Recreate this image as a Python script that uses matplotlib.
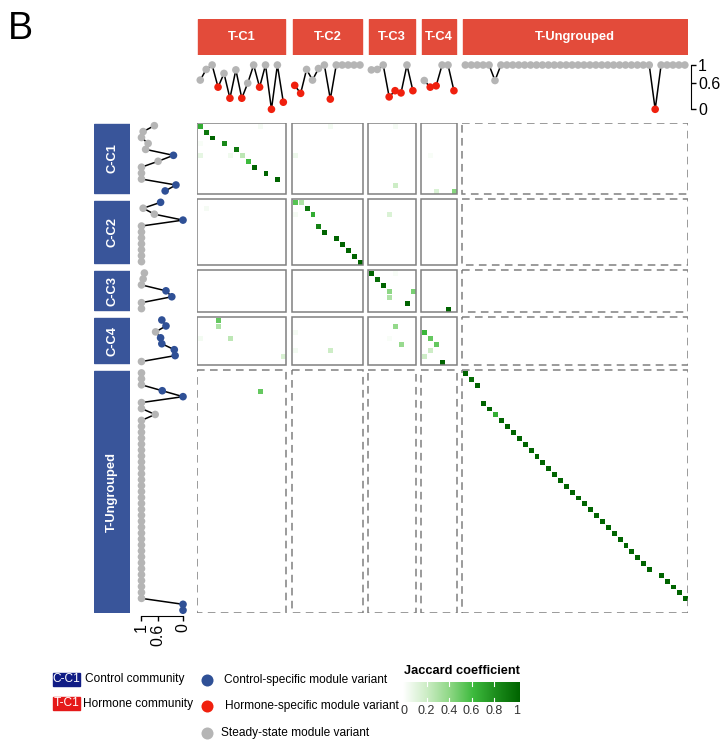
import numpy as np
import matplotlib.pyplot as plt
from matplotlib import font_manager
from matplotlib.colors import LinearSegmentedColormap
from matplotlib.patches import Rectangle

# communities: hormone (columns) and control (rows)
col_groups = ['T-C1', 'T-C2', 'T-C3', 'T-C4', 'T-Ungrouped']
col_sizes = [15, 12, 8, 6, 38]
row_groups = ['C-C1', 'C-C2', 'C-C3', 'C-C4', 'T-Ungrouped']
row_sizes = [12, 11, 7, 8, 41]

# top strip: best match per hormone module (g = steady, r = hormone-specific)
top_t1 = [0.66, 0.90, 1.0, 0.50, 0.81, 0.25, 0.89, 0.25, 0.59, 1.0, 0.50, 1.0, 0.0, 1.0, 0.16]
cat_t1 = 'gggrgrgrggrgrgr'
top_t2 = [0.54, 0.36, 0.90, 0.66, 0.92, 1.0, 0.23, 1.0, 1.0, 1.0, 1.0, 1.0]
cat_t2 = 'rrggggrggggg'
top_t3 = [0.89, 0.90, 1.0, 0.28, 0.42, 0.37, 1.0, 0.42]
cat_t3 = 'gggrrrgr'
top_t4 = [0.65, 0.50, 0.53, 1.0, 1.0, 0.42]
cat_t4 = 'grrggr'
top_tu = [1.0, 1.0, 1.0, 1.0, 1.0, 0.65, 1.0, 1.0, 1.0, 1.0,
          1.0, 1.0, 1.0, 1.0, 1.0, 1.0, 1.0, 1.0, 1.0, 1.0,
          1.0, 1.0, 1.0, 1.0, 1.0, 1.0, 1.0, 1.0, 1.0, 1.0,
          1.0, 1.0, 0.0, 1.0, 1.0, 1.0, 1.0, 1.0]
cat_tu = 'ggggggggggggggggggggggggggggggggrggggg'

# left strip: best match per control module (g = steady, b = control-specific)
left_c1 = [0.69, 0.96, 1.0, 0.84, 0.90, 0.23, 0.60, 1.0, 1.0, 1.0, 0.17, 0.43]
lcat_c1 = 'gggggbggggbb'
left_c2 = [0.54, 0.96, 0.69, 0.0, 1.0, 1.0, 1.0, 1.0, 1.0, 1.0, 1.0]
lcat_c2 = 'bggbggggggg'
left_c3 = [0.93, 0.96, 1.0, 0.41, 0.27, 1.0, 1.0]
lcat_c3 = 'gggbbgg'
left_c4 = [0.51, 0.41, 0.66, 0.54, 0.51, 0.21, 0.19, 1.0]
lcat_c4 = 'bbgbbbbg'
left_cu = [1.0, 1.0, 1.0, 0.50, 0.0, 1.0, 1.0, 0.67, 1.0, 1.0,
           1.0, 1.0, 1.0, 1.0, 1.0, 1.0, 1.0, 1.0, 1.0, 1.0,
           1.0, 1.0, 1.0, 1.0, 1.0, 1.0, 1.0, 1.0, 1.0, 1.0,
           1.0, 1.0, 1.0, 1.0, 1.0, 1.0, 1.0, 1.0, 1.0, 0.0, 0.0]
lcat_cu = 'gggbbggggggggggggggggggggggggggggggggggbb'

# Jaccard cells between grouped modules (global row, global col, value)
jac_row = [0, 1, 2, 3, 4, 5, 6, 7, 8, 9, 5, 5, 0, 3,
           0, 5, 0, 10, 5, 11, 11,
           13, 12, 12, 13, 14, 16, 17, 18, 19, 20, 21, 22, 14, 14,
           23, 24, 25, 26, 27, 26, 28, 23, 29,
           30, 31, 33, 33, 36, 32, 35, 35, 31, 34, 33,
           32, 33, 34, 35, 36, 37, 41]
jac_col = [0, 1, 2, 4, 6, 7, 8, 9, 11, 13, 0, 5, 10, 0,
           21, 15, 31, 31, 36, 37, 40,
           1, 15, 16, 17, 18, 19, 20, 22, 23, 24, 25, 26, 15, 30,
           27, 28, 29, 30, 30, 34, 33, 31, 39,
           3, 3, 5, 0, 14, 15, 15, 21, 31, 32, 30,
           35, 36, 37, 36, 35, 38, 10]
jac_val = [0.66, 0.9, 1.0, 0.82, 0.9, 0.25, 0.6, 1.0, 1.0, 1.0, 0.1, 0.06, 0.04, 0.03,
           0.05, 0.07, 0.04, 0.2, 0.03, 0.15, 0.42,
           0.04, 0.54, 0.3, 0.9, 0.66, 0.85, 1.0, 1.0, 1.0, 1.0, 1.0, 1.0, 0.04, 0.15,
           1.0, 0.95, 1.0, 0.4, 0.3, 0.45, 1.0, 0.03, 1.0,
           0.5, 0.3, 0.25, 0.05, 0.16, 0.04, 0.05, 0.2, 0.38, 0.37, 0.03,
           0.62, 0.5, 0.5, 0.2, 0.2, 1.0, 0.5]

# ungrouped x ungrouped diagonal (local row, local col, value)
ung_row = [0, 1, 2, 5, 6, 7, 8, 9, 10, 11, 12, 13, 14, 15, 16, 17, 18, 19, 20,
           21, 22, 23, 24, 25, 26, 27, 28, 29, 30, 31, 32, 33, 34, 35, 36, 37, 38]
ung_col = [0, 1, 2, 3, 4, 5, 6, 7, 8, 9, 10, 11, 12, 13, 14, 15, 16, 17, 18,
           19, 20, 21, 22, 23, 24, 25, 26, 27, 28, 29, 30, 31, 33, 34, 35, 36, 37]
ung_val = [1.0, 0.95, 1.0, 1.0, 1.0, 0.65, 1.0, 1.0, 1.0, 1.0, 1.0, 1.0, 1.0, 1.0, 1.0,
           1.0, 1.0, 1.0, 1.0, 1.0, 1.0, 1.0, 1.0, 1.0, 1.0, 1.0, 1.0, 1.0, 1.0, 1.0,
           1.0, 1.0, 1.0, 1.0, 1.0, 1.0, 1.0]

top_vals = [top_t1, top_t2, top_t3, top_t4, top_tu]
top_cats = [cat_t1, cat_t2, cat_t3, cat_t4, cat_tu]
left_vals = [left_c1, left_c2, left_c3, left_c4, left_cu]
left_cats = [lcat_c1, lcat_c2, lcat_c3, lcat_c4, lcat_cu]

dot_colors = {'g': '#B5B5B5', 'r': '#F0200E', 'b': '#2F5096'}
hdr_red = '#E34B3A'
hdr_blue = '#39559A'
box_grey = '#808080'

names = {f.name for f in font_manager.fontManager.ttflist}
narrow = 'Liberation Sans Narrow' if 'Liberation Sans Narrow' in names else 'Liberation Sans'
leg_fs = 10.3 if narrow == 'Liberation Sans Narrow' else 8.6
plt.rcParams['font.family'] = ['Liberation Sans', 'DejaVu Sans']

cmap = LinearSegmentedColormap.from_list(
    'jac', [(0, '#FFFFFF'), (0.2, '#CDEDC6'), (0.4, '#8ED785'),
            (0.6, '#3DBA3D'), (0.8, '#1C8C1C'), (1.0, '#006400')])

W, H = 721, 742
fig = plt.figure(figsize=(W / 100, H / 100), dpi=100)


def px_axes(x0, y0, x1, y1):
    return fig.add_axes([x0 / W, 1 - y1 / H, (x1 - x0) / W, (y1 - y0) / H])


# legend overlay in pixel coordinates
leg = px_axes(0, 0, W, H)
leg.set_xlim(0, W)
leg.set_ylim(H, 0)
leg.axis('off')

gap = 0.92
col_start = np.concatenate([[0], np.cumsum(col_sizes)[:-1]])
row_start = np.concatenate([[0], np.cumsum(row_sizes)[:-1]])
col_off = col_start + gap * np.arange(len(col_sizes))
row_off = row_start + gap * np.arange(len(row_sizes))
span_x = sum(col_sizes) + gap * (len(col_sizes) - 1)
span_y = sum(row_sizes) + gap * (len(row_sizes) - 1)

X0, X1, Y0, Y1 = 197.3, 687.8, 122.7, 613.2

# heatmap
mat = np.zeros((sum(row_sizes), sum(col_sizes)))
for r, c, v in zip(jac_row, jac_col, jac_val):
    mat[r, c] = v
for r, c, v in zip(ung_row, ung_col, ung_val):
    mat[row_start[-1] + r, col_start[-1] + c] = v

ax = px_axes(X0, Y0, X1, Y1)
ax.set_xlim(0, span_x)
ax.set_ylim(span_y, 0)
ax.axis('off')
for i, nr in enumerate(row_sizes):
    for j, nc in enumerate(col_sizes):
        block = mat[row_start[i]:row_start[i] + nr, col_start[j]:col_start[j] + nc]
        xs = col_off[j] + np.arange(nc + 1)
        ys = row_off[i] + np.arange(nr + 1)
        ax.pcolormesh(xs, ys, np.ma.masked_equal(block, 0), cmap=cmap, vmin=0, vmax=1,
                      edgecolors='white', linewidth=0.5)
        ungrouped = i == len(row_sizes) - 1 or j == len(col_sizes) - 1
        ax.add_patch(Rectangle((col_off[j], row_off[i]), nc, nr, fill=False,
                               edgecolor=box_grey, lw=1.1,
                               linestyle=(0, (5, 3.5)) if ungrouped else '-'))

# top strip
top = px_axes(X0, 59.7, X1, 114.6)
top.set_xlim(0, span_x)
top.set_ylim(-0.12, 1.12)
for j, nc in enumerate(col_sizes):
    xs = col_off[j] + np.arange(nc) + 0.5
    top.plot(xs, top_vals[j], color='black', lw=1.1, zorder=2, clip_on=False)
    top.scatter(xs, top_vals[j], s=30, c=[dot_colors[k] for k in top_cats[j]],
                zorder=3, linewidths=0, clip_on=False)
for s in ['top', 'bottom', 'left']:
    top.spines[s].set_visible(False)
top.spines['right'].set_bounds(0, 1)
top.spines['right'].set_position(('outward', 2))
top.patch.set_visible(False)
top.set_xticks([])
top.yaxis.tick_right()
top.set_yticks([0, 0.6, 1])
top.set_yticklabels(['0', '0.6', '1'])
top.tick_params(axis='y', length=3.5, width=1, labelsize=11.5, pad=2)

# left strip
left = px_axes(136.5, Y0, 188, Y1)
left.set_xlim(1.12, -0.12)
left.set_ylim(span_y, 0)
for i, nr in enumerate(row_sizes):
    ys = row_off[i] + np.arange(nr) + 0.5
    left.plot(left_vals[i], ys, color='black', lw=1.1, zorder=2, clip_on=False)
    left.scatter(left_vals[i], ys, s=30, c=[dot_colors[k] for k in left_cats[i]],
                 zorder=3, linewidths=0, clip_on=False)
for s in ['top', 'right', 'left']:
    left.spines[s].set_visible(False)
left.spines['bottom'].set_bounds(0, 1)
left.spines['bottom'].set_position(('outward', 2))
left.patch.set_visible(False)
left.set_yticks([])
left.set_xticks([1, 0.6, 0])
left.set_xticklabels(['1', '0.6', '0'], rotation=90)
left.tick_params(axis='x', length=3.5, width=1, labelsize=11.5, pad=2)

# community header boxes
th = px_axes(X0, 19, X1, 55)
th.set_xlim(0, span_x)
th.set_ylim(0, 1)
th.axis('off')
for j, nc in enumerate(col_sizes):
    th.add_patch(Rectangle((col_off[j] + 0.15, 0), nc - 0.3, 1, color=hdr_red))
    th.text(col_off[j] + nc / 2, 0.5, col_groups[j], color='white', fontsize=9.3,
            fontweight='bold', ha='center', va='center')

lh = px_axes(94, Y0, 130, Y1)
lh.set_xlim(0, 1)
lh.set_ylim(span_y, 0)
lh.axis('off')
for i, nr in enumerate(row_sizes):
    lh.add_patch(Rectangle((0, row_off[i] + 0.2), 1, nr - 0.4, color=hdr_blue))
    lh.text(0.5, row_off[i] + nr / 2, row_groups[i], color='white', fontsize=9.3,
            fontweight='bold', ha='center', va='center', rotation=90)

fig.text(8 / W, 1 - 29 / H, 'B', fontsize=27, ha='left', va='center')

# legend
leg.add_patch(Rectangle((53, 672.5), 27, 13, color='#101C85'))
leg.text(66.5, 679, 'C-C1', color='white', fontsize=leg_fs, family=narrow,
         ha='center', va='center')
leg.text(85, 679, 'Control community', fontsize=leg_fs, family=narrow, va='center')
leg.add_patch(Rectangle((53, 697), 27, 13, color='#E51919'))
leg.text(66.5, 703.5, 'T-C1', color='white', fontsize=leg_fs, family=narrow,
         ha='center', va='center')
leg.text(83, 704, 'Hormone community', fontsize=leg_fs, family=narrow, va='center')

leg_items = [('b', 679.5, 224, 'Control-specific module variant'),
             ('r', 706, 225, 'Hormone-specific module variant'),
             ('g', 732.5, 221, 'Steady-state module variant')]
for k, y, tx, label in leg_items:
    leg.scatter([206.7], [y], s=75, color=dot_colors[k], linewidths=0)
    leg.text(tx, y + 0.5, label, fontsize=leg_fs, family=narrow, va='center')

leg.text(404, 671.5, 'Jaccard coefficient', fontsize=leg_fs + 0.6, family=narrow,
         fontweight='bold', va='center')
cax = px_axes(403, 682, 520, 702)
grad = np.linspace(0, 1, 256)[None, :]
cax.imshow(grad, aspect='auto', cmap=cmap, extent=(-0.01, 1.03, 0, 1))
cax.set_xlim(-0.01, 1.03)
cax.set_ylim(0, 1)
for s in cax.spines.values():
    s.set_visible(False)
for v in [0.2, 0.4, 0.6, 0.8]:
    cax.plot([v, v], [0, 0.18], color='white', lw=0.8)
    cax.plot([v, v], [0.82, 1], color='white', lw=0.8)
cax.set_yticks([])
cax.set_xticks([0, 0.2, 0.4, 0.6, 0.8, 1])
cax.set_xticklabels(['0', '0.2', '0.4', '0.6', '0.8', '1'], family=narrow)
cax.tick_params(axis='x', length=0, labelsize=leg_fs + 0.4, pad=2, colors='#333333')

fig.savefig('out.png', dpi=100)
